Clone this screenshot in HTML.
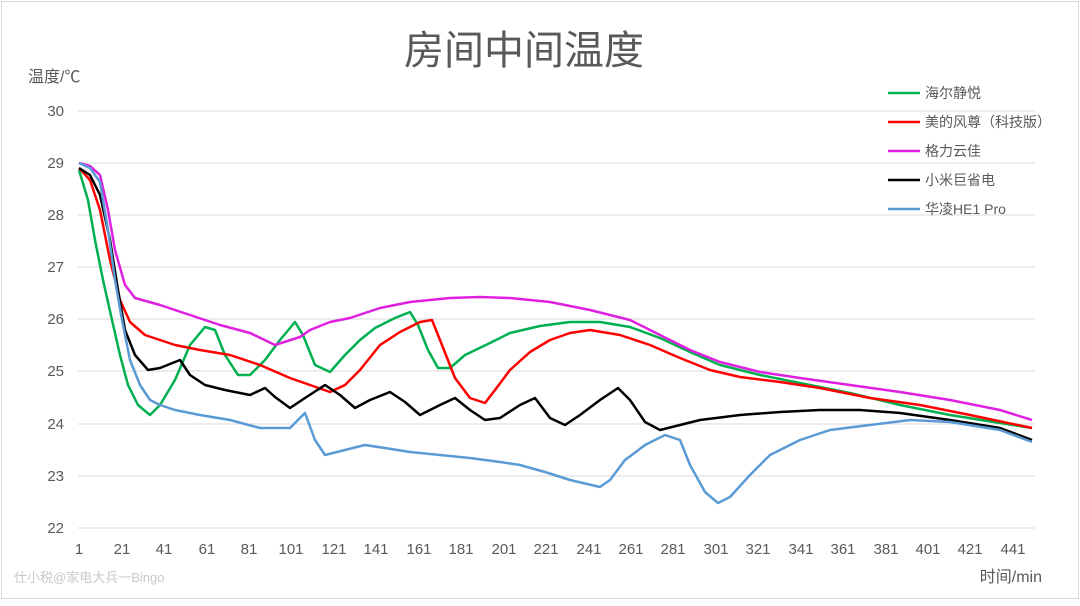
<!DOCTYPE html>
<html><head><meta charset="utf-8"><style>
body{margin:0;background:#fff}
svg text{font-family:"Liberation Sans","Noto Sans CJK SC",sans-serif;fill:#595959}
</style></head><body>
<svg width="1080" height="601" xmlns="http://www.w3.org/2000/svg">
<rect x="1.5" y="1.5" width="1077" height="597" fill="#fff" stroke="#d9d9d9"/>
<text x="524" y="64" font-size="40" text-anchor="middle">房间中间温度</text>
<text x="28" y="82" font-size="16">温度/℃</text>
<g stroke="#d9d9d9" stroke-width="1">
<line x1="78" x2="1035" y1="111" y2="111"/><line x1="78" x2="1035" y1="163" y2="163"/>
<line x1="78" x2="1035" y1="215" y2="215"/><line x1="78" x2="1035" y1="267" y2="267"/>
<line x1="78" x2="1035" y1="319" y2="319"/><line x1="78" x2="1035" y1="371" y2="371"/>
<line x1="78" x2="1035" y1="424" y2="424"/><line x1="78" x2="1035" y1="476" y2="476"/>
<line x1="78" x2="1035" y1="528" y2="528"/>
</g>
<g font-size="15" text-anchor="end">
<text x="64" y="116">30</text><text x="64" y="168">29</text><text x="64" y="220">28</text>
<text x="64" y="272">27</text><text x="64" y="324">26</text><text x="64" y="376">25</text>
<text x="64" y="429">24</text><text x="64" y="481">23</text><text x="64" y="533">22</text>
</g>
<g font-size="15" text-anchor="middle">
<text x="79" y="554">1</text><text x="122" y="554">21</text><text x="164" y="554">41</text>
<text x="207" y="554">61</text><text x="249" y="554">81</text><text x="291" y="554">101</text>
<text x="334" y="554">121</text><text x="376" y="554">141</text><text x="419" y="554">161</text>
<text x="461" y="554">181</text><text x="504" y="554">201</text><text x="546" y="554">221</text>
<text x="589" y="554">241</text><text x="631" y="554">261</text><text x="673" y="554">281</text>
<text x="716" y="554">301</text><text x="758" y="554">321</text><text x="801" y="554">341</text>
<text x="843" y="554">361</text><text x="886" y="554">381</text><text x="928" y="554">401</text>
<text x="970" y="554">421</text><text x="1013" y="554">441</text>
</g>
<text x="1042" y="582" font-size="16" text-anchor="end">时间/min</text>
<text x="14" y="582" font-size="13" style="fill:#c8c8c8">仕小税@家电大兵一Bingo</text>
<g fill="none" stroke-width="2.5" stroke-linejoin="round">
<polyline stroke="#00b050" points="79,170 88,200 95,240 103,280 112,320 120,355 128,385 138,405 150,415 160,405 175,380 190,345 205,327 215,330 225,355 238,375 250,375 265,360 280,340 295,322 303,335 315,365 330,372 345,355 360,340 375,328 395,318 410,312 418,325 428,350 438,368 450,368 465,355 490,343 510,333 540,326 570,322 600,322 630,327 660,338 690,352 720,365 760,375 800,383 850,393 900,405 950,415 1000,423 1032,428"/>
<polyline stroke="#ff0000" points="79,168 90,180 100,210 110,260 120,300 130,322 145,335 160,340 175,345 200,350 230,355 260,365 290,378 310,385 330,392 345,385 360,370 380,345 400,332 420,322 432,320 440,340 455,378 470,398 485,403 495,390 510,370 530,352 550,340 570,333 590,330 620,335 650,345 680,358 710,370 740,377 780,382 820,388 870,398 920,405 970,415 1032,428"/>
<polyline stroke="#e020e0" points="79,163 90,166 100,175 108,210 115,250 125,285 135,298 160,305 190,315 220,325 250,333 275,345 300,337 310,330 330,322 350,318 380,308 410,302 450,298 480,297 510,298 550,302 590,310 630,320 660,335 690,350 720,362 760,372 800,378 850,385 900,392 950,400 1000,410 1032,420"/>
<polyline stroke="#000000" points="79,168 90,175 100,195 110,240 118,290 125,330 135,355 148,370 160,368 180,360 190,375 205,385 225,390 250,395 265,388 275,397 290,408 305,398 325,385 340,395 355,408 370,400 390,392 405,402 420,415 440,405 455,398 470,410 485,420 500,418 520,405 535,398 550,418 565,425 580,415 600,400 618,388 630,400 645,422 660,430 680,425 700,420 740,415 780,412 820,410 860,410 900,413 950,420 1000,428 1032,440"/>
<polyline stroke="#5b9bd5" points="79,163 90,168 100,182 108,230 115,280 122,320 130,360 140,385 150,400 160,405 175,410 200,415 230,420 260,428 290,428 305,413 315,440 325,455 345,450 365,445 385,448 410,452 440,455 470,458 500,462 520,465 545,472 570,480 600,487 610,480 625,460 645,445 665,435 680,440 690,465 705,492 718,503 730,497 750,475 770,455 800,440 830,430 870,425 910,420 950,422 1000,430 1032,442"/>
</g>
<g stroke-width="2.5">
<line x1="888" x2="920" y1="93" y2="93" stroke="#00b050"/>
<line x1="888" x2="920" y1="122" y2="122" stroke="#ff0000"/>
<line x1="888" x2="920" y1="151" y2="151" stroke="#e020e0"/>
<line x1="888" x2="920" y1="180" y2="180" stroke="#000000"/>
<line x1="888" x2="920" y1="209" y2="209" stroke="#5b9bd5"/>
</g>
<g font-size="14">
<text x="925" y="98">海尔静悦</text>
<text x="925" y="127">美的风尊（科技版）</text>
<text x="925" y="156">格力云佳</text>
<text x="925" y="185">小米巨省电</text>
<text x="925" y="214">华凌HE1 Pro</text>
</g>
</svg>
</body></html>
